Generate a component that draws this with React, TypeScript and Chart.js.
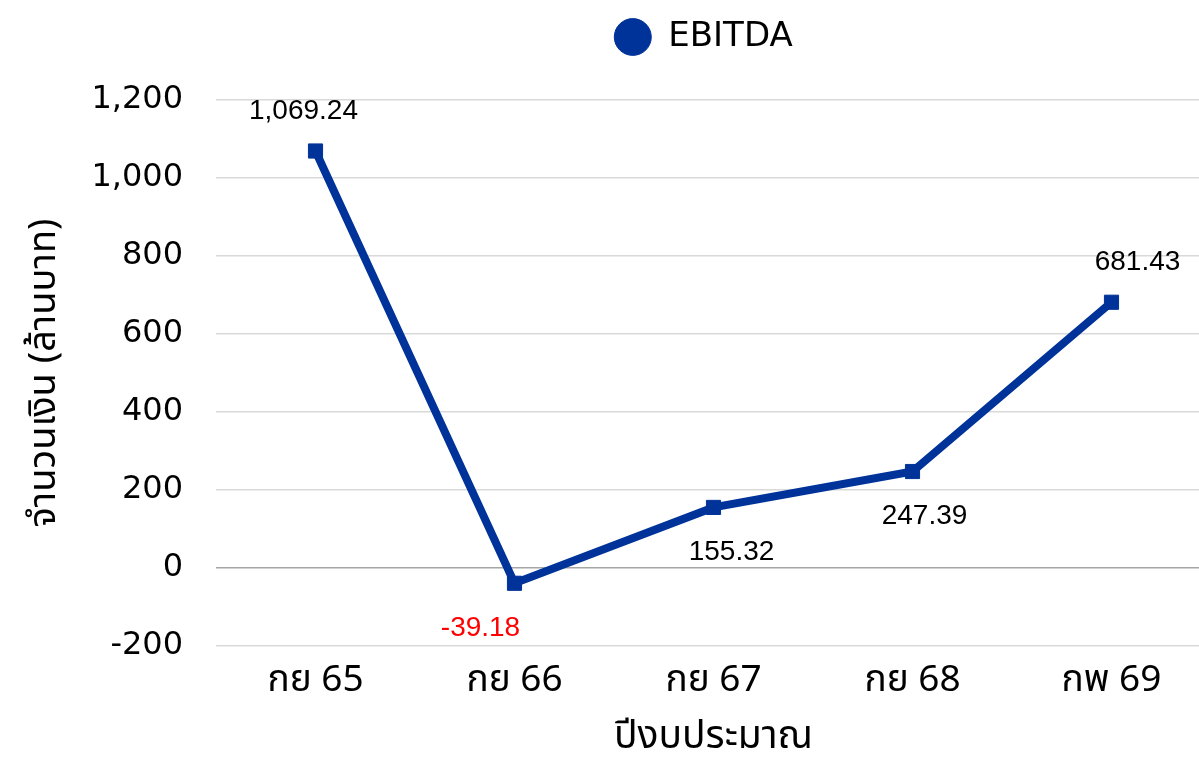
import React, { useEffect, useRef } from "react";
import { Chart, registerables } from "chart.js";

Chart.register(...registerables);

const categories = ["กย 65", "กย 66", "กย 67", "กย 68", "กพ 69"];
const ebitda = [1069.24, -39.18, 155.32, 247.39, 681.43];
const yTicks = [-200, 0, 200, 400, 600, 800, 1000, 1200];
const seriesName = "EBITDA";
const yTitle = "จำนวนเงิน (ล้านบาท)";
const xTitle = "ปีงบประมาณ";

// label placement (style only)
const labelSide = ["above", "below", "below", "below", "above"];
const labelDx = [-12, -34, 18, 12, 26];

const LINE = "#003399";
const THAI = "'Noto Sans Thai', 'Noto Sans', sans-serif";
const LATIN = "'DejaVu Sans', 'Noto Sans', sans-serif";

const labelPlugin = {
  id: "pointLabels",
  afterDatasetsDraw(chart: any) {
    const ctx = chart.ctx;
    const meta = chart.getDatasetMeta(0);
    ctx.save();
    ctx.font = "28px 'Liberation Sans', Arial, sans-serif";
    ctx.textAlign = "center";
    ctx.textBaseline = "middle";
    meta.data.forEach((pt: any, i: number) => {
      const v = ebitda[i];
      const txt = v.toLocaleString("en-US", { minimumFractionDigits: 2, maximumFractionDigits: 2 });
      ctx.fillStyle = v < 0 ? "#ff0000" : "#000000";
      const dy = labelSide[i] === "above" ? -40 : 45;
      ctx.fillText(txt, pt.x + labelDx[i], pt.y + dy);
    });
    ctx.restore();
  },
};

const legendShift = {
  id: "legendShift",
  afterLayout(chart: any) {
    const lg = chart.legend;
    if (!lg) return;
    lg.top -= 36;
    lg.bottom -= 36;
    lg.left -= 10;
    lg.right -= 10;
  },
};

export default function App() {
  const ref = useRef<HTMLCanvasElement>(null);
  useEffect(() => {
    document.body.style.margin = "0";
    const chart = new Chart(ref.current!, {
      type: "line",
      data: {
        labels: categories,
        datasets: [
          {
            label: seriesName,
            data: ebitda,
            borderColor: LINE,
            backgroundColor: LINE,
            borderWidth: 8,
            pointStyle: "rect",
            pointRadius: 10,
            pointBorderWidth: 1,
            pointBorderColor: LINE,
            pointBackgroundColor: LINE,
            tension: 0,
          },
        ],
      },
      options: {
        responsive: true,
        maintainAspectRatio: false,
        animation: false,
        layout: { padding: 0 },
        plugins: {
          tooltip: { enabled: false },
          legend: {
            position: "top",
            fullSize: false,
            labels: {
              usePointStyle: true,
              pointStyle: "circle",
              boxWidth: 26,
              boxHeight: 26,
              pointStyleWidth: 37,
              padding: 18,
              color: "#000",
              font: { family: LATIN, size: 34 },
            },
          },
        },
        scales: {
          x: {
            offset: true,
            grid: { display: false },
            border: { display: false },
            ticks: { color: "#000", font: { family: THAI, size: 37 }, padding: 7 },
            title: {
              display: true,
              text: xTitle,
              color: "#000",
              font: { family: THAI, size: 39, lineHeight: 1.0 },
              padding: 0,
            },
            afterFit(scale: any) {
              scale.height = 114;
              scale.paddingLeft = 0;
              scale.paddingRight = 0;
            },
          },
          y: {
            min: -200,
            max: 1200,
            afterBuildTicks(scale: any) {
              scale.ticks = yTicks.map((v) => ({ value: v }));
            },
            grid: {
              color: (c: any) => (c.tick && c.tick.value === 0 ? "#a6a6a6" : "#d9d9d9"),
              lineWidth: 1.5,
              drawTicks: false,
            },
            border: { display: false },
            ticks: {
              color: "#000",
              font: { family: LATIN, size: 32 },
              padding: 33,
              callback: (v: any) => Number(v).toLocaleString("en-US"),
            },
            title: {
              display: true,
              text: yTitle,
              color: "#000",
              font: { family: THAI, size: 38 },
              padding: { top: 25, bottom: 0 },
            },
            afterFit(scale: any) {
              scale.width = 216;
              scale.paddingTop = 100;
            },
          },
        },
      },
      plugins: [labelPlugin, legendShift],
    });
    return () => chart.destroy();
  }, []);
  return (
    <div style={{ width: 1199, height: 760, overflow: "hidden", background: "#fff" }}>
      <div style={{ position: "relative", width: 1222, height: 760 }}>
        <canvas ref={ref} />
      </div>
    </div>
  );
}
